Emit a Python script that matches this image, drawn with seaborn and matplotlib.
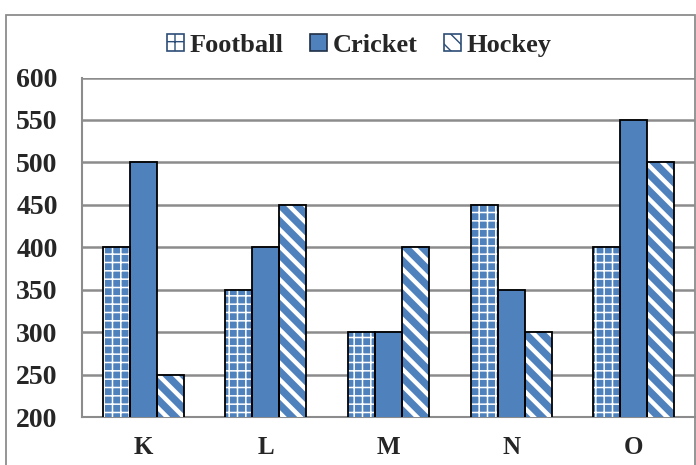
import pandas as pd
import matplotlib.pyplot as plt
import seaborn as sns
from matplotlib.patches import Patch, Rectangle
from matplotlib.ticker import FixedLocator

# data
teams = ['K', 'L', 'M', 'N', 'O']
football = [400, 350, 300, 450, 400]
cricket = [500, 400, 300, 350, 550]
hockey = [250, 450, 400, 300, 500]
sports = ['Football', 'Cricket', 'Hockey']

df = pd.DataFrame({'Team': teams, 'Football': football, 'Cricket': cricket, 'Hockey': hockey})
df = df.melt(id_vars='Team', var_name='Sport', value_name='Players')

blue = '#4f81bd'
grid_gray = '#8c8c8c'
hatches = {'Football': '++', 'Cricket': '', 'Hockey': '\\\\'}
hatch_lw = {'Football': 1.1, 'Cricket': 1.0, 'Hockey': 3.2}

sns.set_style('white')
plt.rcParams['font.family'] = ['Liberation Serif', 'DejaVu Serif']
plt.rcParams['font.weight'] = 'bold'

fig = plt.figure(figsize=(6.96, 4.65), dpi=100)
ax = fig.add_axes([0.1178, 0.1032, 0.8808, 0.7301])

sns.barplot(data=df, x='Team', y='Players', hue='Sport', hue_order=sports,
            palette=[blue] * 3, width=0.66, ax=ax, legend=False, zorder=3)

# hatch in white on the blue bars, then black outlines on top
for sport, bars in zip(sports, ax.containers):
    for p in bars:
        p.set_facecolor(blue)
        p.set_edgecolor('white' if hatches[sport] else blue)
        p.set_hatch(hatches[sport])
        p.set_linewidth(0)
        if hasattr(p, 'set_hatch_linewidth'):
            p.set_hatch_linewidth(hatch_lw[sport])
        ax.add_patch(Rectangle(p.get_xy(), p.get_width(), p.get_height(),
                               fill=False, edgecolor='black', linewidth=1.3, zorder=4))

ax.set_ylim(200, 600)
ax.set_xlim(-0.5, 4.5)
ax.set_yticks(range(200, 601, 50))
ax.yaxis.grid(True, color=grid_gray, linewidth=1.8, zorder=0)
ax.set_axisbelow(True)
ax.set_xlabel('')
ax.set_ylabel('')

for side in ['top', 'right']:
    ax.spines[side].set_visible(False)
for side in ['left', 'bottom']:
    ax.spines[side].set_color(grid_gray)
    ax.spines[side].set_linewidth(1.5)

ax.tick_params(axis='y', which='major', direction='out', length=6.5, width=1.3,
               color=grid_gray, pad=11, labelsize=20)
ax.tick_params(axis='x', which='major', length=0, pad=14, labelsize=18)
ax.xaxis.set_minor_locator(FixedLocator([-0.5, 0.5, 1.5, 2.5, 3.5, 4.5]))
ax.tick_params(axis='x', which='minor', direction='out', length=6.5, width=1.3, color=grid_gray)
for lab in ax.get_xticklabels() + ax.get_yticklabels():
    lab.set_fontweight('bold')

# legend
handles = [
    Patch(facecolor='white', edgecolor='#2c4d75', hatch='+', linewidth=1.2),
    Patch(facecolor=blue, edgecolor='#1f2f45', linewidth=1.2),
    Patch(facecolor='white', edgecolor='#2c4d75', hatch='\\\\', linewidth=1.2),
]
fig.legend(handles, sports, loc='center', bbox_to_anchor=(0.516, 0.903), ncol=3,
           frameon=False, prop={'weight': 'bold', 'size': 19},
           handlelength=0.65, handleheight=0.65, handletextpad=0.2, columnspacing=1.0)

# chart-area border
fig.patches.append(Rectangle((0.0086, -0.05), 0.99, 1.018, transform=fig.transFigure,
                             fill=False, edgecolor='#8c8c8c', linewidth=1.3))

fig.savefig('out.png', dpi=100)
